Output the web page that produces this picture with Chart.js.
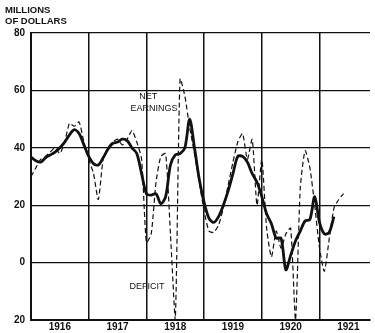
<!DOCTYPE html>
<html>
<head>
<meta charset="utf-8">
<script src="https://cdn.jsdelivr.net/npm/chart.js@4"></script>
<style>
  html, body { margin: 0; padding: 0; background: #fff; }
  #wrap { width: 375px; height: 333px; position: relative; }
</style>
</head>
<body>
<div id="wrap"><canvas id="lineChart"></canvas></div>
<script>
// Monthly values, January 1916 onward (millions of dollars)
const years = ['1916', '1917', '1918', '1919', '1920', '1921'];
const yTicks = [-20, 0, 20, 40, 60, 80];

// Thick solid line (smoothed)
const solidValues = [
    36.8, 35.5, 35, 36.5, 37.5, 38.5, 40, 42, 44.5, 46.3, 45, 41,
    37, 34.5, 34, 36.5, 39.5, 41.5, 42, 43, 42.5, 40, 38, 31,
    24, 23.5, 24, 20.5, 23, 34, 37.5, 38, 40, 50, 40, 29,
    21, 15.5, 14, 16, 20, 25, 31, 37, 37, 35, 31, 28,
    23, 17, 13.5, 8.5, 8.5, -2.5, 2.5, 7.5, 11, 14.5, 15, 23,
    14, 10, 10.5, 16
];

// Thin dashed line (actual monthly)
const dashedValues = [
    30, 33, 36, 37, 38.5, 40, 38, 42, 48.5, 47.5, 49, 42,
    36, 31, 22, 36, 40, 42, 43, 41, 43, 46, 42, 36,
    7, 10, 28, 37, 38, 10, -20, 64, 58, 47, 38, 28,
    18, 11, 10.5, 13, 19, 27, 35, 42, 45, 36, 43, 20,
    36, 12, 2, 11, 5, 10, 12, -20, 26, 39, 33, 20,
    5, -3, 8, 19, 22, 24
];

const toPoints = arr => arr.map((v, i) => ({ x: i, y: v }));

const ink = '#111';
const tickFont = { family: '"Liberation Sans", Arial, sans-serif', size: 10, weight: 'bold' };

// Title and in-chart labels
const textPlugin = {
    id: 'texts',
    afterDraw(chart) {
        const ctx = chart.ctx;
        const x = chart.scales.x, y = chart.scales.y;
        ctx.save();
        ctx.fillStyle = ink;
        ctx.font = 'bold 9.5px "Liberation Sans", Arial, sans-serif';
        ctx.textAlign = 'left';
        ctx.textBaseline = 'alphabetic';
        ctx.fillText('MILLIONS', 5, 13);
        ctx.fillText('OF DOLLARS', 5, 24);

        ctx.font = '9px "Liberation Sans", Arial, sans-serif';
        ctx.textAlign = 'center';
        ctx.textBaseline = 'middle';
        ctx.fillText('NET', x.getPixelForValue(24.4), y.getPixelForValue(57.8));
        ctx.fillText('EARNINGS', x.getPixelForValue(25.6), y.getPixelForValue(53.6));
        ctx.fillText('DEFICIT', x.getPixelForValue(24.1), y.getPixelForValue(-8.4));
        ctx.restore();
    }
};

function createLineChart() {
    const ctx = document.getElementById('lineChart').getContext('2d');

    new Chart(ctx, {
        type: 'line',
        data: {
            datasets: [
                {
                    data: toPoints(dashedValues),
                    borderColor: ink,
                    borderWidth: 1.2,
                    borderDash: [5, 3],
                    pointRadius: 0,
                    tension: 0.2,
                    fill: false
                },
                {
                    data: toPoints(solidValues),
                    borderColor: ink,
                    borderWidth: 2.8,
                    pointRadius: 0,
                    tension: 0.3,
                    fill: false
                }
            ]
        },
        options: {
            responsive: true,
            maintainAspectRatio: false,
            animation: false,
            layout: { padding: { top: 33, right: 5, left: 0, bottom: 0 } },
            scales: {
                x: {
                    type: 'linear',
                    min: 0,
                    max: 70.5,
                    afterBuildTicks: scale => {
                        const t = [];
                        for (let v = 0; v <= 66; v += 6) t.push({ value: v });
                        scale.ticks = t;
                    },
                    afterFit: scale => { scale.height = 13; },
                    ticks: {
                        autoSkip: false,
                        maxRotation: 0,
                        padding: 1,
                        color: ink,
                        font: tickFont,
                        callback: v => (v % 12 === 6 ? years[(v - 6) / 12] : '')
                    },
                    grid: {
                        drawTicks: false,
                        lineWidth: 1.5,
                        color: c => (c.tick && c.tick.value % 12 === 0 && c.tick.value > 0 ? ink : 'rgba(0,0,0,0)')
                    },
                    border: { display: true, color: ink, width: 2 }
                },
                y: {
                    min: -20,
                    max: 80,
                    afterBuildTicks: scale => {
                        scale.ticks = yTicks.map(v => ({ value: v }));
                    },
                    afterFit: scale => { scale.width = 31; },
                    ticks: {
                        padding: 6,
                        color: ink,
                        font: tickFont,
                        callback: v => String(Math.abs(v))
                    },
                    grid: {
                        drawTicks: false,
                        lineWidth: 1.3,
                        color: ink
                    },
                    border: { display: true, color: ink, width: 2 }
                }
            },
            plugins: {
                legend: { display: false },
                tooltip: { enabled: false }
            }
        },
        plugins: [textPlugin]
    });
}

createLineChart();
</script>
</body>
</html>
